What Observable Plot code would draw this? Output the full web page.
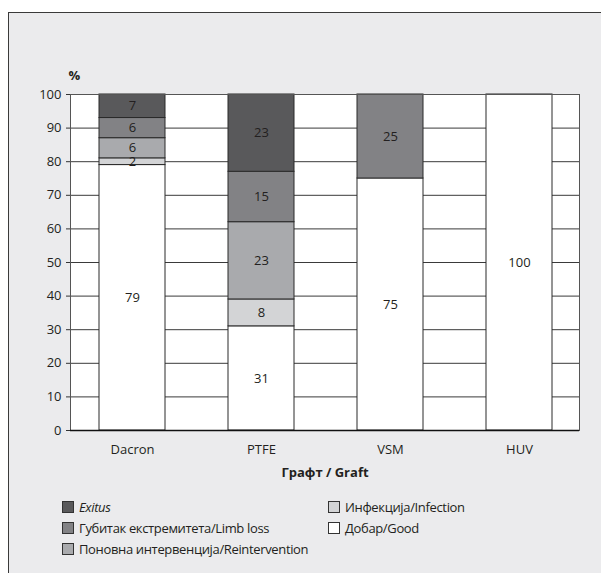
<!DOCTYPE html>
<html>
<head>
<meta charset="utf-8">
<script src="https://cdn.jsdelivr.net/npm/d3@7"></script>
<script src="https://cdn.jsdelivr.net/npm/@observablehq/plot@0.6"></script>
<style>
  html, body { margin: 0; padding: 0; background: #ffffff; }
  #page { position: relative; width: 601px; height: 573px; overflow: hidden; font-family: "Open Sans", sans-serif; }
  #bg { position: absolute; left: 8px; top: 12px; width: 700px; height: 700px; background: #ebebed; border: 1px solid #3a3a3a; }
  #chart { position: absolute; left: 0; top: 0; }
  .leg { position: absolute; display: flex; align-items: center; font-size: 13px; letter-spacing: -0.35px; color: #231f20; white-space: nowrap; }
  .sw { width: 10px; height: 10px; border: 1px solid #333; margin-right: 5px; }
</style>
</head>
<body>
<div id="page">
  <div id="bg"></div>
  <div id="chart"></div>
  <div id="legend"></div>
</div>
<script>
const grafts = ["Dacron", "PTFE", "VSM", "HUV"];
const good = [79, 31, 75, 100];
const infection = [2, 8, 0, 0];
const reintervention = [6, 23, 0, 0];
const limbLoss = [6, 15, 25, 0];
const exitus = [7, 23, 0, 0];
const yTicks = [0, 10, 20, 30, 40, 50, 60, 70, 80, 90, 100];

const categories = ["Добар/Good", "Инфекција/Infection", "Поновна интервенција/Reintervention", "Губитак екстремитета/Limb loss", "Exitus"];
const colors = ["#ffffff", "#d3d4d6", "#a9aaad", "#828285", "#59595b"];
const seriesValues = [good, infection, reintervention, limbLoss, exitus];

const rows = [];
grafts.forEach((g, i) => {
  categories.forEach((c, k) => {
    const v = seriesValues[k][i];
    if (v > 0) rows.push({graft: g, category: c, value: v});
  });
});

const chart = Plot.plot({
  width: 601,
  height: 490,
  marginLeft: 70,
  marginRight: 22,
  marginTop: 94,
  marginBottom: 60,
  style: {background: "transparent", fontFamily: "Open Sans, sans-serif", fontSize: "13px", color: "#231f20"},
  x: {domain: grafts, range: [66, 584], paddingInner: 0.49, paddingOuter: 0.245, label: null},
  y: {domain: [0, 100], ticks: yTicks, label: null},
  color: {domain: categories, range: colors},
  marks: [
    Plot.frame({fill: "white", stroke: "none"}),
    Plot.gridY(yTicks.filter(t => t > 0 && t < 100), {stroke: "#3a3a3a", strokeOpacity: 1, strokeWidth: 1}),
    Plot.barY(rows, {x: "graft", y: "value", fill: "category", stroke: "#2a2a2a", strokeWidth: 1}),
    Plot.text(rows, Plot.stackY({x: "graft", y: "value", text: "value", fill: "#231f20", fontSize: 13})),
    Plot.frame({stroke: "#555", strokeWidth: 1}),
    Plot.ruleY([0], {stroke: "#111", strokeWidth: 1.5}),
    Plot.axisY({ticks: yTicks, tickSize: 4, tickPadding: 5, fontSize: 13, stroke: "#333"}),
    Plot.axisX({tickSize: 0, tickPadding: 14, fontSize: 13}),
    Plot.text(["Графт / Graft"], {frameAnchor: "bottom", dy: 46, fontWeight: "bold", fontSize: 13}),
    Plot.text(["%"], {frameAnchor: "top-left", dx: -2, dy: -24, fontWeight: "bold", fontSize: 13})
  ]
});
document.getElementById("chart").appendChild(chart);

// legend
const legendOrder = [4, 3, 2, 1, 0];
const legendPos = [[62, 507], [62, 528], [62, 549], [328, 507], [328, 528]];
const legend = document.getElementById("legend");
legendOrder.forEach((k, j) => {
  const d = document.createElement("div");
  d.className = "leg";
  d.style.left = legendPos[j][0] + "px";
  d.style.top = (legendPos[j][1] - 9) + "px";
  d.style.height = "18px";
  const sw = document.createElement("div");
  sw.className = "sw";
  sw.style.background = colors[k];
  const t = document.createElement("span");
  t.textContent = categories[k];
  if (categories[k] === "Exitus") t.style.fontStyle = "italic";
  d.appendChild(sw);
  d.appendChild(t);
  legend.appendChild(d);
});
</script>
</body>
</html>
